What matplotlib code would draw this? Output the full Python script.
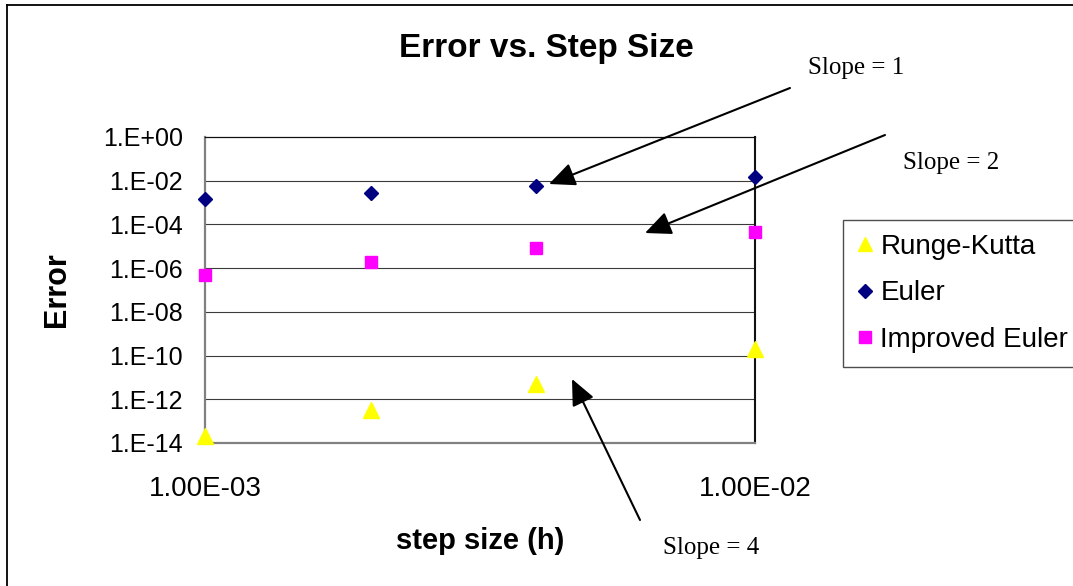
import matplotlib
matplotlib.use('Agg')
import matplotlib.pyplot as plt
from matplotlib.lines import Line2D

# ---- data ----
step_sizes = [0.001, 0.002, 0.004, 0.01]
runge_kutta = [2.0e-14, 3.1e-13, 5.2e-12, 2.1e-10]
euler = [1.4e-3, 2.8e-3, 5.6e-3, 1.45e-2]
improved_euler = [5.1e-7, 2.0e-6, 8.3e-6, 4.4e-5]

y_ticks = [1e0, 1e-2, 1e-4, 1e-6, 1e-8, 1e-10, 1e-12, 1e-14]
y_tick_labels = ['1.E+00', '1.E-02', '1.E-04', '1.E-06', '1.E-08',
                 '1.E-10', '1.E-12', '1.E-14']
x_ticks = [1e-3, 1e-2]
x_tick_labels = ['1.00E-03', '1.00E-02']

W, H = 1073, 586
plt.rcParams['font.family'] = ['Liberation Sans', 'DejaVu Sans']

fig = plt.figure(figsize=(W / 100, H / 100), dpi=100)
fig.patch.set_facecolor('white')

L, R, T, B = 205, 755, 137, 443
ax = fig.add_axes([L / W, 1 - B / H, (R - L) / W, (B - T) / H])
ax.set_xscale('log')
ax.set_yscale('log')
ax.set_xlim(1e-3, 1e-2)
ax.set_ylim(1e-14, 1e0)

# gridlines
for yv in y_ticks[1:-1]:
    ax.axhline(yv, color='#3a3a3a', lw=0.8, zorder=1)

ax.plot(step_sizes, runge_kutta, linestyle='none', marker='^', ms=11,
        color='#FFFF00', mec='#FFFF00', label='Runge-Kutta', clip_on=False, zorder=4)
ax.plot(step_sizes, euler, linestyle='none', marker='D', ms=7,
        color='#000080', mec='#000080', label='Euler', clip_on=False, zorder=4)
ax.plot(step_sizes, improved_euler, linestyle='none', marker='s', ms=9,
        color='#FF00FF', mec='#FF00FF', label='Improved Euler', clip_on=False, zorder=4)

ax.set_yticks(y_ticks)
ax.set_yticklabels(y_tick_labels)
ax.set_xticks(x_ticks)
ax.set_xticklabels(x_tick_labels)
ax.minorticks_off()
ax.tick_params(axis='y', length=0, pad=16, labelsize=18)
ax.tick_params(axis='x', length=0, pad=24, labelsize=20)

ax.spines['left'].set_color('#808080')
ax.spines['left'].set_linewidth(1.6)
ax.spines['bottom'].set_color('#808080')
ax.spines['bottom'].set_linewidth(1.6)
ax.spines['right'].set_color('#111111')
ax.spines['right'].set_linewidth(1.5)
ax.spines['top'].set_color('#111111')
ax.spines['top'].set_linewidth(0.9)

ax.set_xlabel('step size (h)', fontsize=21, fontweight='bold', labelpad=18)
ax.set_ylabel('Error', fontsize=22, fontweight='bold', labelpad=22)

fig.text(546 / W, 1 - 49 / H, 'Error vs. Step Size', fontsize=24,
         fontweight='bold', ha='center', va='center')

leg = ax.legend(loc='upper left', bbox_to_anchor=(843 / W, 1 - 220 / H),
                bbox_transform=fig.transFigure, borderaxespad=0,
                fontsize=20, frameon=True, fancybox=False, edgecolor='#222222',
                handlelength=0.6, handletextpad=0.25, labelspacing=0.74,
                borderpad=0.5, markerscale=0.95)
leg.get_frame().set_linewidth(1.0)

# annotations
serif = ['Liberation Serif', 'DejaVu Serif']
fig.text(808 / W, 1 - 68 / H, 'Slope = 1', fontsize=18, family=serif,
         ha='left', va='center')
fig.text(903 / W, 1 - 163 / H, 'Slope = 2', fontsize=18, family=serif,
         ha='left', va='center')
fig.text(663 / W, 1 - 548 / H, 'Slope = 4', fontsize=18, family=serif,
         ha='left', va='center')

arrows = [((790, 88), (549, 184)), ((885, 135), (645, 233)), ((640, 520), (572, 379))]
for (x0, y0), (x1, y1) in arrows:
    ax.annotate('', xy=(x1, H - y1), xycoords='figure pixels',
                xytext=(x0, H - y0), textcoords='figure pixels',
                annotation_clip=False,
                arrowprops=dict(arrowstyle='-|>,head_length=1.0,head_width=0.45',
                                mutation_scale=16, color='black', lw=1.5,
                                shrinkA=0, shrinkB=0))

# outer border (chart area frame)
fig.add_artist(Line2D([7 / W, 7 / W], [0, 1 - 5 / H], transform=fig.transFigure,
                      color='black', lw=1.3))
fig.add_artist(Line2D([7 / W, 1], [1 - 5 / H, 1 - 5 / H], transform=fig.transFigure,
                      color='black', lw=1.3))

fig.savefig('out.png', dpi=100)
